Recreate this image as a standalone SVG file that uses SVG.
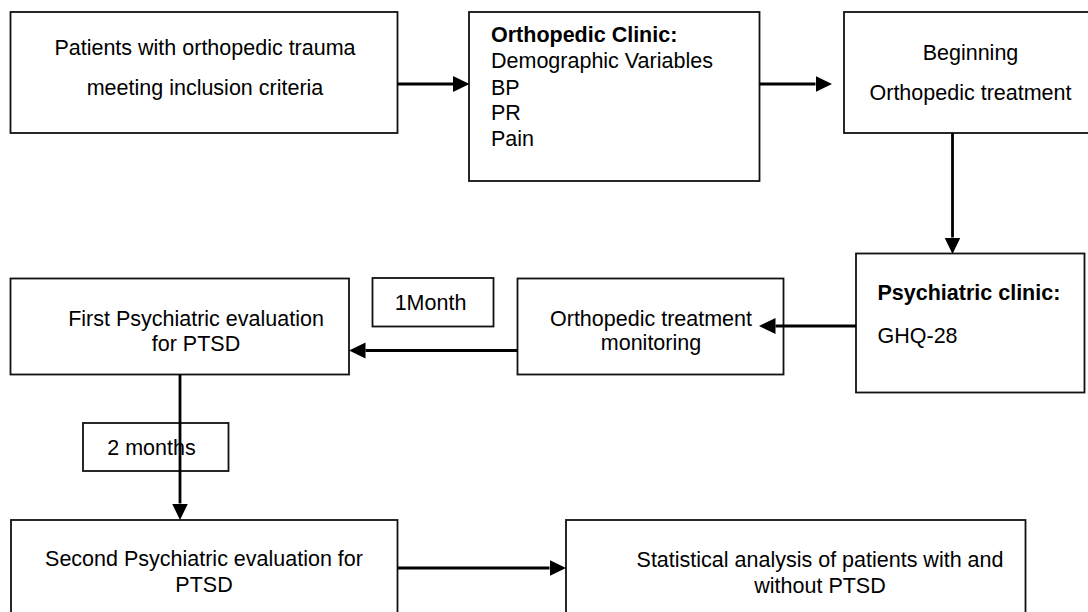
<svg xmlns="http://www.w3.org/2000/svg" width="1088" height="612" viewBox="0 0 1088 612">
<style>
.box{fill:#fff;stroke:#111;stroke-width:1.8}
.lbl{fill:none;stroke:#111;stroke-width:1.8}
.t{font-family:"Liberation Sans",Arial,Helvetica,sans-serif;font-size:21.5px;fill:#000}
.c{text-anchor:middle}
.b{font-weight:bold}
.con{fill:none;stroke:#000;stroke-width:2.8}
</style>
<defs>
<marker id="ah" markerUnits="userSpaceOnUse" markerWidth="17" markerHeight="17" refX="0" refY="8" orient="auto" viewBox="0 0 17 16">
<path d="M0,0 L16.5,8 L0,16 Z" fill="#000"/>
</marker>
</defs>
<rect width="1088" height="612" fill="#fff"/>
<g id="n1">
<rect class="box" x="10.5" y="12" width="387" height="121"/>
<text class="t c" x="205" y="55">Patients with orthopedic trauma</text>
<text class="t c" x="205" y="94.5">meeting inclusion criteria</text>
</g>
<g id="n2">
<rect class="box" x="469" y="12" width="290.5" height="169"/>
<text class="t b" x="491" y="42">Orthopedic Clinic:</text>
<text class="t" x="491" y="68">Demographic Variables</text>
<text class="t" x="491" y="94.5">BP</text>
<text class="t" x="491" y="120">PR</text>
<text class="t" x="491" y="146">Pain</text>
</g>
<g id="n3">
<rect class="box" x="844" y="12" width="250" height="121"/>
<text class="t c" x="970.5" y="60">Beginning</text>
<text class="t c" x="970.5" y="100">Orthopedic treatment</text>
</g>
<g id="n4">
<rect class="box" x="856" y="253.5" width="228.5" height="139"/>
<text class="t b" x="877.5" y="300">Psychiatric clinic:</text>
<text class="t" x="877.5" y="342.5">GHQ-28</text>
</g>
<g id="n5">
<rect class="box" x="517.5" y="278.5" width="266" height="96"/>
<text class="t c" x="651" y="326">Orthopedic treatment</text>
<text class="t c" x="651" y="349.5">monitoring</text>
</g>
<g id="n6">
<rect class="box" x="10.5" y="278.5" width="338.5" height="96"/>
<text class="t c" x="196" y="326">First Psychiatric evaluation</text>
<text class="t c" x="196" y="350.5">for PTSD</text>
</g>
<g id="l1">
<rect class="lbl" x="372.5" y="278" width="121" height="48.5"/>
<text class="t c" x="430.5" y="310">1Month</text>
</g>
<g id="l2">
<rect class="lbl" x="83" y="423" width="145.5" height="48"/>
<text class="t c" x="151.5" y="455">2 months</text>
</g>
<g id="n7">
<rect class="box" x="11" y="520" width="386.5" height="110"/>
<text class="t c" x="204" y="566">Second Psychiatric evaluation for</text>
<text class="t c" x="204" y="591.5">PTSD</text>
</g>
<g id="n8">
<rect class="box" x="566" y="520" width="459.5" height="110"/>
<text class="t c" x="820" y="566.5">Statistical analysis of patients with and</text>
<text class="t c" x="820" y="592.5">without PTSD</text>
</g>
<g id="connectors">
<path class="con" d="M397.5,84 H453" marker-end="url(#ah)"/>
<path class="con" d="M759.5,84 H815.5" marker-end="url(#ah)"/>
<path class="con" d="M952.5,133 V237.5" marker-end="url(#ah)"/>
<path class="con" d="M856,326 H775.5" marker-end="url(#ah)"/>
<path class="con" d="M517.5,350.5 H365.5" marker-end="url(#ah)"/>
<path class="con" d="M180,374.5 V503.5" marker-end="url(#ah)"/>
<path class="con" d="M397.5,568 H549.5" marker-end="url(#ah)"/>
</g>
</svg>
